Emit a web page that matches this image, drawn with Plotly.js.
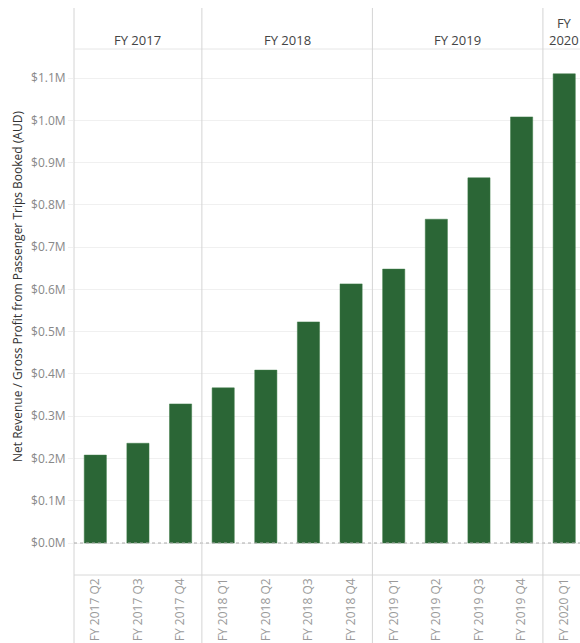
<!DOCTYPE html>
<html>
<head>
<meta charset="utf-8">
<script src="https://cdn.plot.ly/plotly-3.0.1.min.js"></script>
<style>
html,body{margin:0;padding:0;background:#fff;}
#chart{width:580px;height:643px;}
</style>
</head>
<body>
<div id="chart"></div>
<script>
// Data
var quarters = ["FY 2017 Q2","FY 2017 Q3","FY 2017 Q4",
                "FY 2018 Q1","FY 2018 Q2","FY 2018 Q3","FY 2018 Q4",
                "FY 2019 Q1","FY 2019 Q2","FY 2019 Q3","FY 2019 Q4",
                "FY 2020 Q1"];
var revenue = [208000, 236000, 329000,
               367000, 409000, 523000, 613000,
               648000, 766000, 864000, 1008000,
               1110000];
var fiscalYears = ["FY 2017","FY 2018","FY 2019","FY<br>2020"];
var yearCounts = [3, 4, 4, 1];
var yTickVals = [0,100000,200000,300000,400000,500000,600000,700000,800000,900000,1000000,1100000];
var yTickText = ["$0.0M","$0.1M","$0.2M","$0.3M","$0.4M","$0.5M","$0.6M","$0.7M","$0.8M","$0.9M","$1.0M","$1.1M"];
var yTitle = "Net Revenue / Gross Profit from Passenger Trips Booked (AUD)";

var idx = quarters.map(function(_, i){ return i; });
var sepColor = "#d4d4d4";
var shapes = [];
var annotations = [];

// left border line across header, pane and axis
shapes.push({type:"line", xref:"paper", yref:"paper", x0:0, x1:0, y0:-0.13, y1:1.078,
             line:{color:sepColor, width:1}});
// header bottom line and pane bottom line
shapes.push({type:"line", xref:"paper", yref:"paper", x0:0, x1:1, y0:1, y1:1, line:{color:"#e6e6e6", width:1}});
shapes.push({type:"line", xref:"paper", yref:"paper", x0:0, x1:1, y0:0, y1:0, line:{color:"#d8d8d8", width:1}});
// zero line dotted
shapes.push({type:"line", xref:"paper", yref:"y", x0:0, x1:1, y0:0, y1:0, line:{color:"#aaaaaa", width:1, dash:"dot"}});

// group separators and headers
var start = 0;
for (var g = 0; g < fiscalYears.length; g++) {
  var end = start + yearCounts[g];
  if (g > 0) {
    shapes.push({type:"line", xref:"x", yref:"paper", x0:start-0.5, x1:start-0.5, y0:-0.13, y1:1.078,
                 line:{color:sepColor, width:1}});
  }
  var center = (start + end - 1) / 2;
  annotations.push({xref:"x", yref:"paper", x:center, y:1.0, yanchor:"bottom", yshift:-2,
                    text:fiscalYears[g], showarrow:false, align:"center",
                    font:{family:"Open Sans, sans-serif", size:13, color:"#444"}});
  start = end;
}

annotations.push({xref:"paper", yref:"paper", x:-0.1126, y:0.5475, xanchor:"center", yanchor:"middle",
                  textangle:-90, showarrow:false, text:yTitle,
                  font:{family:"Open Sans, sans-serif", size:12, color:"#333"}});

var trace = {
  type:"bar", x:idx, y:revenue, width:0.52,
  marker:{color:"#2b6636", line:{color:"#3c7a47", width:0.5}},
  hoverinfo:"x+y"
};

var layout = {
  width:580, height:643,
  margin:{l:74, r:0, t:49, b:68},
  paper_bgcolor:"#fff", plot_bgcolor:"#fff",
  showlegend:false,
  xaxis:{
    range:[-0.5, 11.37], tickmode:"array", tickvals:idx, ticktext:quarters,
    tickangle:-90, showgrid:false, zeroline:false, showline:false,
    ticks:"", 
    tickfont:{family:"Open Sans, sans-serif", size:12, color:"#9a9a9a"},
    fixedrange:true
  },
  yaxis:{
    range:[-75700, 1168700], tickmode:"array", tickvals:yTickVals, ticktext:yTickText,
    showgrid:true, gridcolor:"#f0f0f0", gridwidth:1, zeroline:false, showline:false,
    ticks:"outside", ticklen:5, tickcolor:"#f0f0f0",
    tickfont:{family:"Open Sans, sans-serif", size:12, color:"#888"},
    fixedrange:true
  },
  shapes:shapes,
  annotations:annotations
};

Plotly.newPlot("chart", [trace], layout, {displayModeBar:false, staticPlot:true});
</script>
</body>
</html>
